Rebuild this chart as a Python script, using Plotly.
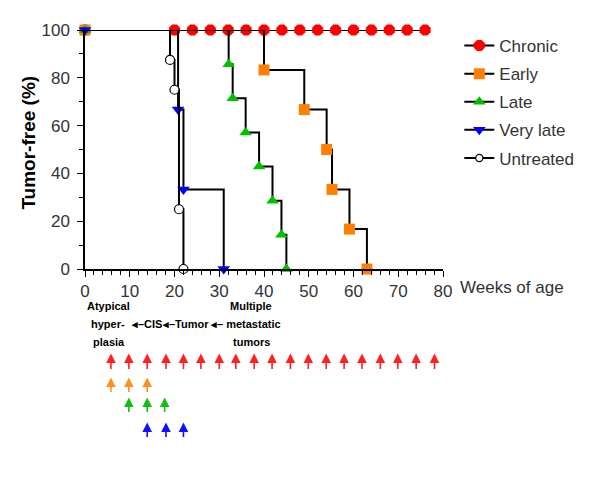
import plotly.graph_objects as go

# ---- data ----
chronic_weeks = [0, 20, 24, 28, 32, 36, 40, 44, 48, 52, 56, 60, 64, 68, 72, 76]
chronic_free = [100] * 16

early_weeks = [0, 40, 49, 54, 55.2, 59.1, 63]
early_free = [100, 83.3, 66.7, 50, 33.3, 16.7, 0]

late_weeks = [0, 32.1, 33, 35.9, 38.9, 41.9, 43.9, 45]
late_free = [100, 85.7, 71.4, 57.1, 42.9, 28.6, 14.3, 0]

vlate_weeks = [0, 20.8, 22, 31]
vlate_free = [100, 66.7, 33.3, 0]

untreated_weeks = [0, 19, 20, 21, 22]
untreated_free = [100, 87.5, 75, 25, 0]

chronic_tx = [5.8, 9.8, 13.9, 18.1, 22.0, 25.9, 30.0, 33.7, 37.8, 41.8,
              45.9, 49.9, 53.9, 57.9, 61.9, 66.0, 69.9, 74.0, 78.1]
early_tx = [5.8, 9.8, 13.9]
late_tx = [9.8, 13.9, 17.8]
vlate_tx = [13.9, 18.1, 22.0]

# ---- layout geometry (screen pixels; page body has an 8px margin) ----
OFF = 8
W, H = 600 - OFF, 503 - OFF
PX0, PX1 = 85, 442.7     # x = 0 and x = 80 on screen
PY0, PY1 = 268.7, 30     # y = 0 and y = 100 on screen

def xp(px):
    return (px - PX0) / (PX1 - PX0)

def yp(py):
    return (PY0 - py) / (PY0 - PY1)

FONT = "Liberation Sans, Arial, sans-serif"

fig = go.Figure()

series = [
    ("Chronic", chronic_weeks, chronic_free, "octagon", "#ff0000", "#ff0000", 12),
    ("Early", early_weeks, early_free, "square", "#ff8000", "#ff8000", 11),
    ("Late", late_weeks, late_free, "triangle-up", "#00c000", "#00c000", 11),
    ("Very late", vlate_weeks, vlate_free, "triangle-down", "#0000ff", "#0000ff", 11),
    ("Untreated", untreated_weeks, untreated_free, "circle", "#ffffff", "#000000", 9),
]
for name, xs, ys, sym, fill, edge, size in series:
    sizes = size
    if name == "Untreated":
        sizes = [0] + [size] * (len(xs) - 1)  # starting point hidden under the other curves
    fig.add_trace(go.Scatter(
        x=xs, y=ys, name=name, mode="lines+markers", legendgroup=name,
        line=dict(color="black", width=2, shape="hv"),
        marker=dict(symbol=sym, color=fill, size=sizes, opacity=1,
                    line=dict(color=edge, width=1.2 if name == "Untreated" else 0)),
        cliponaxis=False,
    ))

annotations = []
# y-axis title
annotations.append(dict(text="<b>Tumor-free (%)</b>", xref="paper", yref="paper",
                        x=xp(16), y=yp(142), textangle=-90, showarrow=False,
                        font=dict(size=19, color="black", family=FONT)))
# x-axis label
annotations.append(dict(text="Weeks of age", xref="paper", yref="paper",
                        x=xp(458), y=yp(287), xanchor="left", yanchor="middle",
                        showarrow=False, font=dict(size=17, color="#333", family=FONT)))

AR = "\u25c2\u2013"
stage_texts = [
    ("Atypical", 108, 306), ("hyper-", 107.5, 324), ("plasia", 109, 342),
    (AR + "CIS", 146.7, 324), (AR + "Tumor", 185, 324),
    (AR + " metastatic", 245, 324), ("Multiple", 250.5, 306), ("tumors", 251, 342),
]
for t, cx, cy in stage_texts:
    annotations.append(dict(text="<b>" + t + "</b>", xref="paper", yref="paper",
                            x=xp(cx), y=yp(cy), xanchor="center", yanchor="middle",
                            showarrow=False, font=dict(size=11, color="black", family=FONT)))

rows = [
    (chronic_tx, "#ff2020", 353, 17),
    (early_tx, "#ff9020", 377, 16),
    (late_tx, "#10c010", 397, 16),
    (vlate_tx, "#1010ff", 422, 16),
]
for xs, col, head_y, length in rows:
    for wk in xs:
        annotations.append(dict(text="", xref="x", yref="paper", x=wk, y=yp(head_y),
                                axref="pixel", ayref="pixel", ax=0, ay=length,
                                showarrow=True, arrowhead=2, arrowsize=1.2,
                                arrowwidth=1.6, arrowcolor=col))

fig.update_layout(
    width=W, height=H,
    margin=dict(l=PX0 - OFF, r=W - (PX1 - OFF), t=PY1 - OFF, b=H - (PY0 - OFF), pad=0),
    paper_bgcolor="white", plot_bgcolor="white",
    font=dict(family=FONT, size=17, color="#333"),
    showlegend=True,
    legend=dict(x=xp(459), y=yp(28), xanchor="left", yanchor="top",
                font=dict(size=17, color="#333", family=FONT),
                bgcolor="rgba(0,0,0,0)", traceorder="grouped", tracegroupgap=3,
                itemsizing="trace"),
    annotations=annotations,
)
fig.update_xaxes(range=[0, 80], dtick=10, tick0=0, showgrid=False, zeroline=False,
                 showline=True, linecolor="black", linewidth=1.5,
                 ticks="outside", ticklen=6, tickwidth=1.2, tickcolor="black",
                 minor=dict(dtick=2, ticks="outside", ticklen=4, tickwidth=1, tickcolor="black"),
                 tickfont=dict(size=17, color="#333"))
fig.update_yaxes(range=[0, 100], dtick=20, tick0=0, showgrid=False, zeroline=False,
                 showline=True, linecolor="black", linewidth=1.5,
                 ticks="outside", ticklen=6, tickwidth=1.2, tickcolor="black",
                 minor=dict(dtick=10, ticks="outside", ticklen=4, tickwidth=1, tickcolor="black"),
                 tickfont=dict(size=17, color="#333"), ticklabelstandoff=4)

fig.write_html("out.html")
